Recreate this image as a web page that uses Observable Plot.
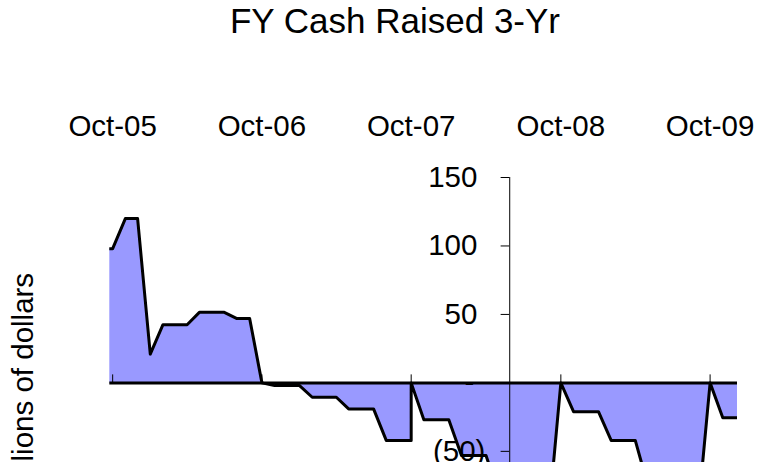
<!DOCTYPE html>
<html><head><meta charset="utf-8">
<script src="https://cdn.jsdelivr.net/npm/d3@7"></script>
<script src="https://cdn.jsdelivr.net/npm/@observablehq/plot@0.6"></script>
<style>
html,body{margin:0;padding:0;overflow:hidden;background:#fff;width:759px;height:462px}
#title{box-sizing:border-box;width:759px;height:60px;padding-top:2.7px;padding-left:31px;text-align:center;font:35px/35px "Liberation Sans",Arial,sans-serif;color:#000;white-space:nowrap}
#ylab{position:absolute;left:0;top:0;pointer-events:none}
</style></head><body>
<div id="title">FY Cash Raised 3-Yr</div>
<div id="chart"></div>
<svg id="ylab" width="759" height="462"><text transform="translate(33.3,386) rotate(-90)" text-anchor="middle" font-family="Liberation Sans, Arial, sans-serif" font-size="29.5" fill="#000">Millions of dollars</text></svg>
<script>
// Monthly fiscal-year-to-date cash raised (millions of dollars)
const months = [
  "2005-09-01","2005-10-01","2005-11-01","2005-12-01","2006-01-01","2006-02-01","2006-03-01","2006-04-01",
  "2006-05-01","2006-06-01","2006-07-01","2006-08-01","2006-09-01","2006-10-01",
  "2006-11-01","2006-12-01","2007-01-01","2007-02-01","2007-03-01","2007-04-01",
  "2007-05-01","2007-06-01","2007-07-01","2007-08-01","2007-09-01","2007-10-01",
  "2007-10-01","2007-11-01","2007-12-01","2008-01-01","2008-02-01","2008-03-01","2008-04-01",
  "2008-05-01","2008-06-01","2008-07-01","2008-08-01","2008-09-01",
  "2008-10-01","2008-11-01","2008-12-01","2009-01-01","2009-02-01","2009-03-01","2009-04-01",
  "2009-05-01","2009-06-01","2009-07-01","2009-08-01","2009-09-01",
  "2009-10-01","2009-11-01","2009-12-01","2010-01-01"
];
const cashRaised = [
  98, 98, 120, 120, 21, 42.5, 42.5, 42.5,
  51.5, 51.5, 51.5, 47, 47, 0,
  -2, -2, -2, -10.5, -10.5, -10.5,
  -19, -19, -19, -42, -42, -42,
  0, -27, -27, -27, -53, -53, -53,
  -80, -80, -80, -98, -98,
  0, -21, -21, -21, -42, -42, -42,
  -74, -74, -74, -96, -96,
  0, -25.5, -25.5, -25.5
];
const xTickDates = ["2005-10-01","2006-10-01","2007-10-01","2008-10-01","2009-10-01"];
const xTickLabels = ["Oct-05","Oct-06","Oct-07","Oct-08","Oct-09"];
const yTicksPositive = [150, 100, 50];
const yTicksNegative = [-50, -100];
const yTicksZero = [0];
const xDomain = ["2005-09-24","2009-12-07"];
const yDomain = [-110, 150];
const yAxisCrossing = "2008-05-29";
const titleText = "FY Cash Raised 3-Yr";

const parse = s => new Date(s + "T00:00:00Z");
const data = months.map((m, i) => ({date: parse(m), value: cashRaised[i]}));
const labelByTime = new Map(xTickDates.map((d, i) => [+parse(d), xTickLabels[i]]));

const W = 759, H = 483, mL = 109.3, mR = 22, mT = 117, mB = 10;
const xs = d3.scaleUtc(xDomain.map(parse), [mL, W - mR]);
const ys = d3.scaleLinear(yDomain, [H - mB, mT]);
const axisDx = xs(parse(yAxisCrossing)) - mL;
const zeroDy = ys(0) - mT;
const font = '"Liberation Sans", Arial, sans-serif';

const chart = Plot.plot({
  width: W, height: H,
  marginLeft: mL, marginRight: mR, marginTop: mT, marginBottom: mB,
  style: {fontFamily: font, fontSize: "29.5px", color: "#000", background: "transparent", overflow: "visible"},
  x: {type: "utc", domain: xDomain.map(parse), label: null},
  y: {domain: yDomain, label: null},
  marks: [
    Plot.areaY(data, {x: "date", y: "value", fill: "#9999ff", clip: true}),
    Plot.axisX(xTickDates.map(parse), {anchor: "top", tickSize: 9, dy: zeroDy, fill: "none", stroke: "#000", tickFormat: () => "", label: null}),
    Plot.ruleY([0], {stroke: "#000", strokeWidth: 3}),
    Plot.ruleX([parse(yAxisCrossing)], {stroke: "#000", strokeWidth: 1}),
    Plot.lineY(data, {x: "date", y: "value", stroke: "#000", strokeWidth: 3, clip: true}),
    Plot.axisX(xTickDates.map(parse), {anchor: "top", tickSize: 0, tickPadding: 41.5, tickFormat: d => labelByTime.get(+d), label: null}),
    Plot.axisY(yTicksPositive, {anchor: "left", dx: axisDx, tickSize: 8.6, tickPadding: 23.7, tickFormat: d => `${d}`, label: null}),
    Plot.axisY(yTicksNegative, {anchor: "left", dx: axisDx, tickSize: 8.6, tickPadding: 15.7, tickFormat: d => `(${-d})`, label: null}),
    Plot.axisY(yTicksZero, {anchor: "left", dx: axisDx, tickSize: 8.6, tickPadding: 26.7, tickFormat: () => "-", label: null})
  ]
});
document.getElementById("chart").appendChild(chart);
document.getElementById("title").textContent = titleText;
</script>
</body></html>
